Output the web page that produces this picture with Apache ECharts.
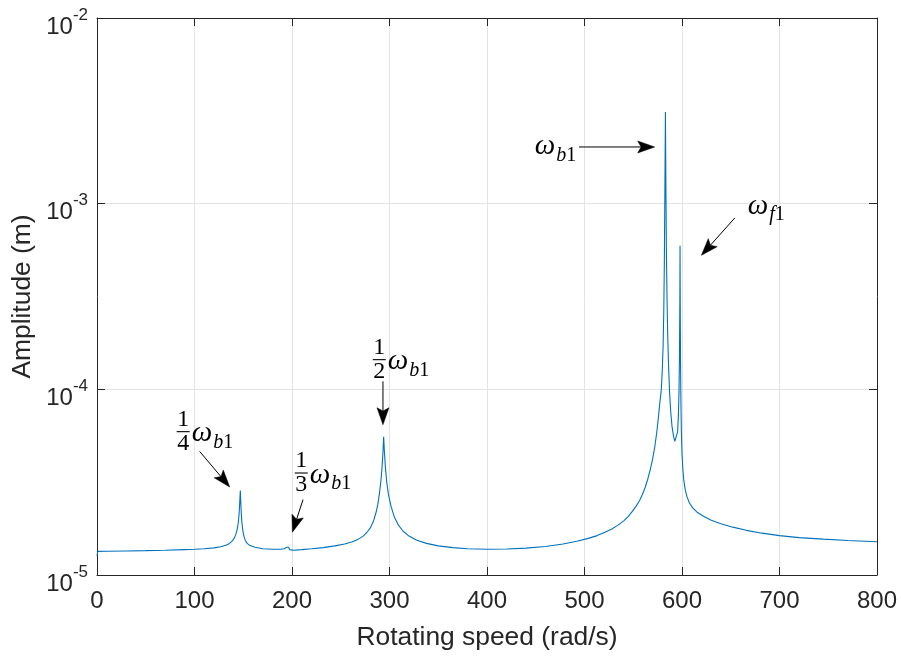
<!DOCTYPE html>
<html><head><meta charset="utf-8">
<script src="https://cdn.jsdelivr.net/npm/echarts@6/dist/echarts.min.js"></script>
<style>html,body{margin:0;padding:0;background:#fff}#c{width:901px;height:660px}</style>
</head><body><div id="c"></div>
<script>
// ---- data ----
const speeds = [
  0, 0.8, 10, 30, 50, 70, 90, 100, 110, 120, 127, 132, 136, 139, 141, 142.5, 143.8, 144.8, 145.6, 146.2,
  146.7, 147.0, 147.3, 147.8, 148.5, 149.4, 150.5, 152, 154, 157, 162, 170, 180, 188, 192, 194.5,
  195.8, 196.6, 197.5, 199, 202, 210, 220, 232, 244, 254, 262, 268, 273, 277, 280.5, 283.5, 286, 288,
  289.7, 291, 292.2, 293.2, 294.0, 294.8, 295.8, 297.2, 299, 301.5, 305, 309, 314, 320, 328, 338, 350,
  365, 380, 400, 420, 440, 460, 478, 492, 503, 513, 521, 528, 534, 540, 545, 549, 553, 556.5, 559.5,
  562.3, 565, 567.5, 570, 572.2, 574, 575.6, 577, 578.8, 579.8, 580.6, 581.3, 581.9, 582.4, 583.0,
  583.5, 584.0, 584.6, 585.3, 586.2, 587.2, 588.4, 589.8, 591.3, 592.6, 593.6, 594.6, 595.5, 596.3,
  596.9, 597.4, 597.8, 598.0, 598.2, 598.5, 598.9, 599.4, 600.0, 600.8, 601.8, 603.2, 605, 607.5, 611,
  616, 622, 630, 640, 652, 666, 682, 700, 720, 745, 770, 800
];
const amplitudes = [
  1.27e-5, 1.34e-5, 1.342e-5, 1.347e-5, 1.353e-5, 1.36e-5, 1.37e-5, 1.375e-5, 1.385e-5, 1.40e-5, 1.42e-5,
  1.445e-5, 1.48e-5, 1.53e-5, 1.59e-5, 1.66e-5, 1.76e-5, 1.9e-5, 2.08e-5, 2.35e-5,
  2.65e-5, 2.85e-5, 2.6e-5, 2.25e-5, 1.95e-5, 1.76e-5, 1.63e-5, 1.54e-5, 1.48e-5, 1.44e-5, 1.41e-5,
  1.385e-5, 1.375e-5, 1.375e-5, 1.385e-5, 1.41e-5,
  1.445e-5, 1.41e-5, 1.37e-5, 1.355e-5, 1.36e-5, 1.37e-5, 1.385e-5, 1.405e-5, 1.435e-5, 1.47e-5, 1.51e-5,
  1.56e-5, 1.62e-5, 1.70e-5, 1.80e-5, 1.95e-5, 2.15e-5, 2.4e-5,
  2.75e-5, 3.15e-5, 3.7e-5, 4.5e-5, 5.55e-5, 4.6e-5, 3.8e-5, 3.15e-5, 2.7e-5, 2.35e-5, 2.05e-5, 1.86e-5,
  1.72e-5, 1.62e-5, 1.54e-5, 1.48e-5, 1.435e-5,
  1.405e-5, 1.385e-5, 1.375e-5, 1.38e-5, 1.395e-5, 1.425e-5, 1.47e-5, 1.52e-5, 1.57e-5, 1.63e-5, 1.70e-5,
  1.77e-5, 1.85e-5, 1.95e-5, 2.07e-5, 2.2e-5, 2.35e-5, 2.52e-5, 2.72e-5,
  2.97e-5, 3.3e-5, 3.7e-5, 4.25e-5, 4.95e-5, 5.8e-5, 6.9e-5, 8.2e-5, 1.0e-4, 1.28e-4, 1.7e-4, 2.6e-4,
  4.8e-4, 1.1e-3, 3.12e-3,
  1.2e-3, 5.5e-4, 3.2e-4, 2.0e-4, 1.35e-4, 9.8e-5, 7.6e-5, 6.3e-5, 5.6e-5, 5.25e-5, 5.14e-5, 5.3e-5,
  5.9e-5, 7.2e-5,
  9.5e-5, 1.5e-4, 3.0e-4, 5.94e-4, 2.8e-4, 1.4e-4, 8.5e-5, 5.8e-5, 4.5e-5, 3.75e-5, 3.25e-5, 2.9e-5,
  2.65e-5, 2.45e-5, 2.3e-5,
  2.17e-5, 2.07e-5, 1.97e-5, 1.89e-5, 1.81e-5, 1.74e-5, 1.68e-5, 1.63e-5, 1.59e-5, 1.56e-5, 1.535e-5, 1.51e-5
];
const xTickValues = [0, 100, 200, 300, 400, 500, 600, 700, 800];
const yTickValues = [1e-5, 1e-4, 1e-3, 1e-2];

// annotation texts: fraction (optional), subscript, anchor = left edge / centre of the omega, data units
const annotations = [
  { num: '1', den: '4', sub: 'b', at: [97.1, 5.56e-5] },
  { num: '1', den: '3', sub: 'b', at: [218.2, 3.33e-5] },
  { num: '1', den: '2', sub: 'b', at: [298.2, 1.358e-4] },
  { num: null, den: null, sub: 'b', at: [448.9, 1.954e-3] },
  { num: null, den: null, sub: 'f', at: [667.4, 9.34e-4] }
];
// arrows: tail -> tip, data units
const arrows = [
  { from: [105.3, 4.63e-5], to: [136.1, 2.98e-5] },
  { from: [211.3, 2.55e-5], to: [200.4, 1.70e-5] },
  { from: [293.3, 1.104e-4], to: [293.3, 6.45e-5] },
  { from: [494.4, 2.02e-3], to: [572.0, 2.02e-3] },
  { from: [654.1, 8.37e-4], to: [619.9, 5.27e-4] }
];

// ---- chart ----
const chart = echarts.init(document.getElementById('c'), null, { renderer: 'canvas' });
const seriesData = speeds.map((s, i) => [s, amplitudes[i]]);
const AX = '#262626';
const GRIDC = '#e3e3e3';
const SANS = 'Liberation Sans';
const SERIF = 'Liberation Serif';

const xBase = {
  type: 'value', min: xTickValues[0], max: xTickValues[xTickValues.length - 1],
  interval: xTickValues[1] - xTickValues[0],
  axisLine: { show: true, onZero: false, lineStyle: { color: AX, width: 1 } },
  axisTick: { show: true, inside: true, length: 8, lineStyle: { color: AX, width: 1 } }
};
const yBase = {
  type: 'log', logBase: 10, min: yTickValues[0], max: yTickValues[yTickValues.length - 1],
  axisLine: { show: true, onZero: false, lineStyle: { color: AX, width: 1 } },
  axisTick: { show: true, inside: true, length: 8, lineStyle: { color: AX, width: 1 } },
  minorTick: { show: false }
};

chart.setOption({
  animation: false,
  backgroundColor: '#ffffff',
  grid: { left: 97, right: 24, top: 18, bottom: 85, containLabel: false },
  xAxis: [
    Object.assign({}, xBase, {
      position: 'bottom',
      name: 'Rotating speed (rad/s)', nameLocation: 'middle', nameGap: 50,
      nameTextStyle: { fontFamily: SANS, fontSize: 26.4, color: AX },
      axisLabel: { show: true, margin: 14, fontFamily: SANS, fontSize: 24, color: AX },
      splitLine: { show: true, lineStyle: { color: GRIDC, width: 1 } }
    }),
    Object.assign({}, xBase, {
      position: 'top',
      axisLabel: { show: false }, splitLine: { show: false }
    })
  ],
  yAxis: [
    Object.assign({}, yBase, {
      position: 'left',
      name: 'Amplitude (m)', nameLocation: 'middle', nameGap: 56,
      nameTextStyle: { fontFamily: SANS, fontSize: 26.4, color: AX },
      axisLabel: {
        show: true, margin: 9, color: AX,
        formatter: function (v) {
          const e = Math.round(Math.log10(v));
          return '{b|10}{s|' + e + '}';
        },
        rich: {
          b: { fontFamily: SANS, fontSize: 24, color: AX, padding: [18, 0, 0, 0] },
          s: { fontFamily: SANS, fontSize: 17, color: AX, padding: [0, 0, 6, 0] }
        }
      },
      splitLine: { show: true, lineStyle: { color: GRIDC, width: 1 } }
    }),
    Object.assign({}, yBase, {
      position: 'right',
      axisLabel: { show: false }, splitLine: { show: false }
    })
  ],
  series: [{
    type: 'line', xAxisIndex: 0, yAxisIndex: 0, data: seriesData,
    showSymbol: false, symbol: 'none', smooth: false, clip: true,
    lineStyle: { color: '#0072BD', width: 1.1 }
  }]
});

// ---- annotations (positioned via the chart's own scales) ----
const ctx = document.createElement('canvas').getContext('2d');
function textWidth(str, font) { ctx.font = font; return ctx.measureText(str).width; }
const toPx = p => chart.convertToPixel({ xAxisIndex: 0, yAxisIndex: 0 }, p);

const graphics = [];
const OMEGA_SIZE = 29, SUB_SIZE = 20, FRAC_SIZE = 24;

annotations.forEach(a => {
  const [px, py] = toPx(a.at);
  if (a.num) {
    const barY = py - 5, barR = px - 2, barL = barR - 13;
    graphics.push({ type: 'line', shape: { x1: barL, y1: barY, x2: barR, y2: barY },
      style: { stroke: '#000', lineWidth: 1.1 }, silent: true });
    graphics.push({ type: 'text', x: (barL + barR) / 2, y: barY - 12,
      style: { text: a.num, fontFamily: SERIF, fontSize: FRAC_SIZE, fill: '#000', align: 'center', verticalAlign: 'middle' } });
    graphics.push({ type: 'text', x: (barL + barR) / 2, y: barY + 12,
      style: { text: a.den, fontFamily: SERIF, fontSize: FRAC_SIZE, fill: '#000', align: 'center', verticalAlign: 'middle' } });
  }
  const wOm = textWidth('ω', 'italic ' + OMEGA_SIZE + 'px "' + SERIF + '"');
  graphics.push({ type: 'text', x: px, y: py - 3,
    style: { text: 'ω', fontFamily: SERIF, fontStyle: 'italic', fontSize: OMEGA_SIZE, fill: '#000', align: 'left', verticalAlign: 'middle' } });
  graphics.push({ type: 'text', x: px + wOm + 1, y: py + 6,
    style: { text: '{i|' + a.sub + '}{u|1}', fill: '#000', align: 'left', verticalAlign: 'middle',
      rich: { i: { fontFamily: SERIF, fontStyle: 'italic', fontSize: SUB_SIZE, fill: '#000' },
              u: { fontFamily: SERIF, fontSize: SUB_SIZE, fill: '#000' } } } });
});

arrows.forEach(ar => {
  const [x1, y1] = toPx(ar.from);
  const [x2, y2] = toPx(ar.to);
  const dx = x2 - x1, dy = y2 - y1, len = Math.hypot(dx, dy);
  const ux = dx / len, uy = dy / len, nx = -uy, ny = ux;
  const L = 17, W = 12, notch = 0.8 * L;
  const bx = x2 - ux * L, by = y2 - uy * L;
  const mx = x2 - ux * notch, my = y2 - uy * notch;
  graphics.push({ type: 'line', shape: { x1: x1, y1: y1, x2: mx, y2: my },
    style: { stroke: '#000', lineWidth: 1 }, silent: true });
  graphics.push({ type: 'polygon', shape: { points: [
      [x2, y2], [bx + nx * W / 2, by + ny * W / 2], [mx, my], [bx - nx * W / 2, by - ny * W / 2]] },
    style: { fill: '#000', stroke: '#000', lineWidth: 0.5 }, silent: true });
});

chart.setOption({ graphic: { elements: graphics } });
</script>
</body></html>
